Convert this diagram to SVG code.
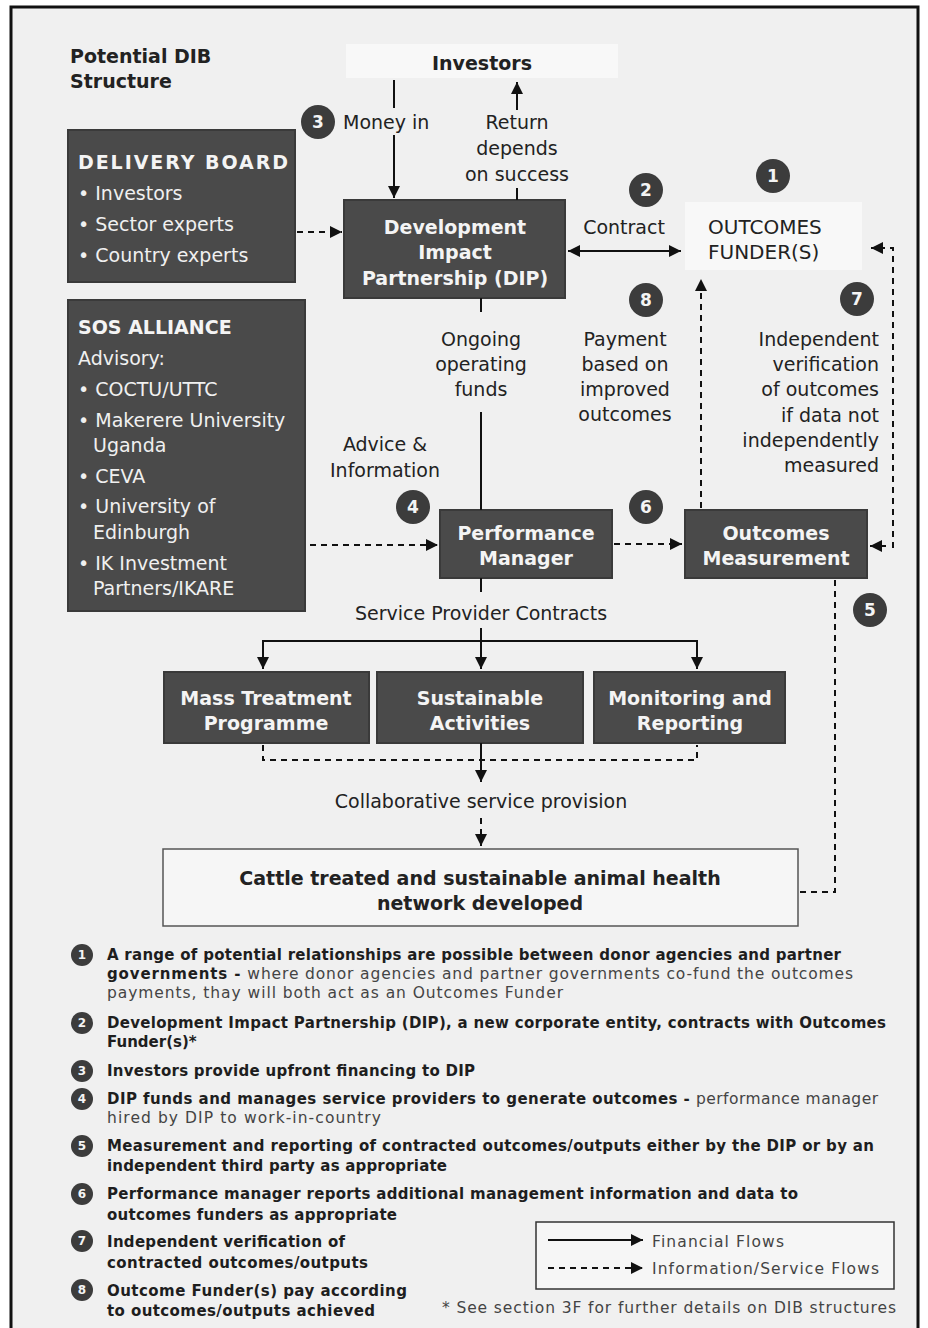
<svg xmlns="http://www.w3.org/2000/svg" width="928" height="1328" viewBox="0 0 928 1328">
<defs>
<marker id="ah" markerUnits="userSpaceOnUse" markerWidth="14" markerHeight="14" refX="12" refY="6" orient="auto-start-reverse"><path d="M0,0 L12,6 L0,12 z" fill="#111"/></marker>
<style>
text{font-family:"DejaVu Sans","Liberation Sans",sans-serif;}
.bg{fill:#f0f0f0;stroke:#111;stroke-width:3}
.dark{fill:#4a4a4a;stroke:#3a3a3a;stroke-width:2}
.light{fill:#f8f8f8;stroke:none}
.wt{fill:#f4f4f4;font-weight:bold;font-size:19px}
.wl{fill:#f0f0f0;font-size:19px}
.lbl{fill:#222;font-size:19px}
.num{fill:#3c3c3c}
.numt{fill:#f4f4f4;font-weight:bold;font-size:17px;text-anchor:middle}
.numts{fill:#f4f4f4;font-weight:bold;font-size:12px;text-anchor:middle}
.s{stroke:#111;stroke-width:2;fill:none}
.d{stroke:#111;stroke-width:2;fill:none;stroke-dasharray:6,5}
.nb{fill:#1e1e1e;font-size:15px;font-weight:bold}
.nr{fill:#444;font-size:15.5px}
.c{text-anchor:middle}
</style>
</defs>
<rect x="0" y="0" width="928" height="1328" fill="#ffffff"/>
<rect class="bg" x="11" y="7" width="907" height="1330"/>

<g id="title"><text x="70" y="63" font-size="19" font-weight="bold" fill="#222">Potential DIB</text><text x="70" y="88" font-size="19" font-weight="bold" fill="#222">Structure</text></g>

<g id="investors"><rect class="light" x="346" y="44" width="272" height="34"/><text class="lbl c" x="482" y="70" style="font-weight:bold">Investors</text></g>

<g id="delivery-board"><rect class="dark" x="68" y="130" width="227" height="152"/>
<text class="wt" x="78" y="169" font-size="20" textLength="210">DELIVERY BOARD</text>
<text class="wl" x="78" y="200">• Investors</text>
<text class="wl" x="78" y="231">• Sector experts</text>
<text class="wl" x="78" y="262">• Country experts</text></g>

<g id="dip"><rect class="dark" x="344" y="200" width="221" height="98"/>
<text class="wt c" x="455" y="234">Development</text>
<text class="wt c" x="455" y="259">Impact</text>
<text class="wt c" x="455" y="285">Partnership (DIP)</text></g>

<g id="outcomes-funder"><rect class="light" x="685" y="202" width="177" height="68"/>
<text class="lbl" x="708" y="234" style="font-size:20px">OUTCOMES</text>
<text class="lbl" x="708" y="259" style="font-size:20px">FUNDER(S)</text></g>

<g id="sos-alliance"><rect class="dark" x="68" y="300" width="237" height="311"/>
<text class="wt" x="78" y="334" font-size="20">SOS ALLIANCE</text>
<text class="wl" x="78" y="365">Advisory:</text>
<text class="wl" x="78" y="396">• COCTU/UTTC</text>
<text class="wl" x="78" y="427">• Makerere University</text>
<text class="wl" x="93" y="452">Uganda</text>
<text class="wl" x="78" y="483">• CEVA</text>
<text class="wl" x="78" y="513">• University of</text>
<text class="wl" x="93" y="539">Edinburgh</text>
<text class="wl" x="78" y="570">• IK Investment</text>
<text class="wl" x="93" y="595">Partners/IKARE</text></g>

<g id="performance-manager"><rect class="dark" x="440" y="510" width="172" height="68"/>
<text class="wt c" x="526" y="540">Performance</text>
<text class="wt c" x="526" y="565">Manager</text></g>

<g id="outcomes-measurement"><rect class="dark" x="685" y="510" width="182" height="68"/>
<text class="wt c" x="776" y="540">Outcomes</text>
<text class="wt c" x="776" y="565">Measurement</text></g>

<g id="mass-treatment"><rect class="dark" x="164" y="672" width="205" height="71"/>
<text class="wt c" x="266" y="705">Mass Treatment</text>
<text class="wt c" x="266" y="730">Programme</text></g>

<g id="sustainable-activities"><rect class="dark" x="377" y="672" width="206" height="71"/>
<text class="wt c" x="480" y="705">Sustainable</text>
<text class="wt c" x="480" y="730">Activities</text></g>

<g id="monitoring-reporting"><rect class="dark" x="594" y="672" width="191" height="71"/>
<text class="wt c" x="690" y="705">Monitoring and</text>
<text class="wt c" x="690" y="730">Reporting</text></g>

<g id="cattle"><rect x="163" y="849" width="635" height="77" fill="#f6f6f6" stroke="#555" stroke-width="1.5"/>
<text class="lbl c" x="480" y="885" style="font-weight:bold">Cattle treated and sustainable animal health</text>
<text class="lbl c" x="480" y="910" style="font-weight:bold">network developed</text></g>

<g id="labels">
<text class="lbl" x="343" y="129">Money in</text>
<text class="lbl c" x="517" y="129">Return</text>
<text class="lbl c" x="517" y="155">depends</text>
<text class="lbl c" x="517" y="181">on success</text>
<text class="lbl c" x="624" y="234">Contract</text>
<text class="lbl c" x="481" y="346">Ongoing</text>
<text class="lbl c" x="481" y="371">operating</text>
<text class="lbl c" x="481" y="396">funds</text>
<text class="lbl c" x="625" y="346">Payment</text>
<text class="lbl c" x="625" y="371">based on</text>
<text class="lbl c" x="625" y="396">improved</text>
<text class="lbl c" x="625" y="421">outcomes</text>
<text class="lbl" x="879" y="346" text-anchor="end">Independent</text>
<text class="lbl" x="879" y="371" text-anchor="end">verification</text>
<text class="lbl" x="879" y="396" text-anchor="end">of outcomes</text>
<text class="lbl" x="879" y="422" text-anchor="end">if data not</text>
<text class="lbl" x="879" y="447" text-anchor="end">independently</text>
<text class="lbl" x="879" y="472" text-anchor="end">measured</text>
<text class="lbl c" x="385" y="451">Advice &amp;</text>
<text class="lbl c" x="385" y="477">Information</text>
<text class="lbl c" x="481" y="620">Service Provider Contracts</text>
<text class="lbl c" x="481" y="808">Collaborative service provision</text>
</g>

<g id="badges">
<circle class="num" cx="318" cy="122" r="17"/><text class="numt" x="318" y="128">3</text>
<circle class="num" cx="646" cy="190" r="17"/><text class="numt" x="646" y="196">2</text>
<circle class="num" cx="773" cy="176" r="17"/><text class="numt" x="773" y="182">1</text>
<circle class="num" cx="646" cy="300" r="17"/><text class="numt" x="646" y="306">8</text>
<circle class="num" cx="857" cy="299" r="17"/><text class="numt" x="857" y="305">7</text>
<circle class="num" cx="413" cy="507" r="17"/><text class="numt" x="413" y="513">4</text>
<circle class="num" cx="646" cy="507" r="17"/><text class="numt" x="646" y="513">6</text>
<circle class="num" cx="870" cy="610" r="17"/><text class="numt" x="870" y="616">5</text>
</g>

<g id="connectors">
<path class="s" d="M394,80 L394,108"/>
<path class="s" d="M394,135 L394,198" marker-end="url(#ah)"/>
<path class="s" d="M517,110 L517,82" marker-end="url(#ah)"/>
<path class="s" d="M517,188 L517,200"/>
<path class="d" d="M297,232 L342,232" marker-end="url(#ah)"/>
<path class="s" d="M568,251 L681,251" marker-start="url(#ah)" marker-end="url(#ah)"/>
<path class="s" d="M481,298 L481,312"/>
<path class="s" d="M481,412 L481,510"/>
<path class="d" d="M310,545 L438,545" marker-end="url(#ah)"/>
<path class="d" d="M614,544 L682,544" marker-end="url(#ah)"/>
<path class="d" d="M701,508 L701,279" marker-end="url(#ah)"/>
<path class="d" d="M893,548 L893,248 L871,248" marker-end="url(#ah)"/>
<path class="s" d="M886,546 L870,546" marker-end="url(#ah)"/>
<path class="d" d="M835,580 L835,892 L800,892"/>
<path class="s" d="M481,578 L481,592"/>
<path class="s" d="M481,628 L481,669" marker-end="url(#ah)"/>
<path class="s" d="M263,669 L263,641 L697,641 L697,669" marker-end="url(#ah)"/>
<path class="s" d="M263,641 L263,669" marker-end="url(#ah)"/>
<path class="d" d="M263,745 L263,760 L697,760 L697,745"/>
<path class="s" d="M481,743 L481,782" marker-end="url(#ah)"/>
<path class="d" d="M481,818 L481,846" marker-end="url(#ah)"/>
</g>

<g id="notes">
<circle class="num" cx="82" cy="955" r="11"/><text class="numts" x="82" y="959">1</text>
<text class="nb" x="107" y="960" textLength="734">A range of potential relationships are possible between donor agencies and partner</text>
<text x="107" y="979" textLength="746" font-size="15"><tspan class="nb">governments - </tspan><tspan class="nr">where donor agencies and partner governments co-fund the outcomes</tspan></text>
<text class="nr" x="107" y="998" textLength="456">payments, thay will both act as an Outcomes Funder</text>
<circle class="num" cx="82" cy="1023" r="11"/><text class="numts" x="82" y="1027">2</text>
<text class="nb" x="107" y="1028" textLength="779">Development Impact Partnership (DIP), a new corporate entity, contracts with Outcomes</text>
<text class="nb" x="107" y="1047">Funder(s)*</text>
<circle class="num" cx="82" cy="1071" r="11"/><text class="numts" x="82" y="1075">3</text>
<text class="nb" x="107" y="1076" textLength="368">Investors provide upfront financing to DIP</text>
<circle class="num" cx="82" cy="1099" r="11"/><text class="numts" x="82" y="1103">4</text>
<text x="107" y="1104" textLength="771" font-size="15"><tspan class="nb">DIP funds and manages service providers to generate outcomes - </tspan><tspan class="nr">performance manager</tspan></text>
<text class="nr" x="107" y="1123" textLength="274">hired by DIP to work-in-country</text>
<circle class="num" cx="82" cy="1146" r="11"/><text class="numts" x="82" y="1150">5</text>
<text class="nb" x="107" y="1151" textLength="767">Measurement and reporting of contracted outcomes/outputs either by the DIP or by an</text>
<text class="nb" x="107" y="1171" textLength="340">independent third party as appropriate</text>
<circle class="num" cx="82" cy="1194" r="11"/><text class="numts" x="82" y="1198">6</text>
<text class="nb" x="107" y="1199" textLength="691">Performance manager reports additional management information and data to</text>
<text class="nb" x="107" y="1220" textLength="290">outcomes funders as appropriate</text>
<circle class="num" cx="82" cy="1241" r="11"/><text class="numts" x="82" y="1245">7</text>
<text class="nb" x="107" y="1247" textLength="238">Independent verification of</text>
<text class="nb" x="107" y="1268" textLength="261">contracted outcomes/outputs</text>
<circle class="num" cx="82" cy="1290" r="11"/><text class="numts" x="82" y="1294">8</text>
<text class="nb" x="107" y="1296" textLength="300">Outcome Funder(s) pay according</text>
<text class="nb" x="107" y="1316" textLength="268">to outcomes/outputs achieved</text>
<text class="nr" x="442" y="1313" textLength="454">* See section 3F for further details on DIB structures</text>
</g>

<g id="legend">
<rect x="536" y="1222" width="358" height="67" fill="#f6f6f6" stroke="#333" stroke-width="1.5"/>
<path class="s" d="M548,1240 L643,1240" marker-end="url(#ah)"/>
<path class="d" d="M548,1268 L643,1268" marker-end="url(#ah)"/>
<text class="nr" x="652" y="1247" textLength="132">Financial Flows</text>
<text class="nr" x="652" y="1274" textLength="227">Information/Service Flows</text>
</g>
</svg>
